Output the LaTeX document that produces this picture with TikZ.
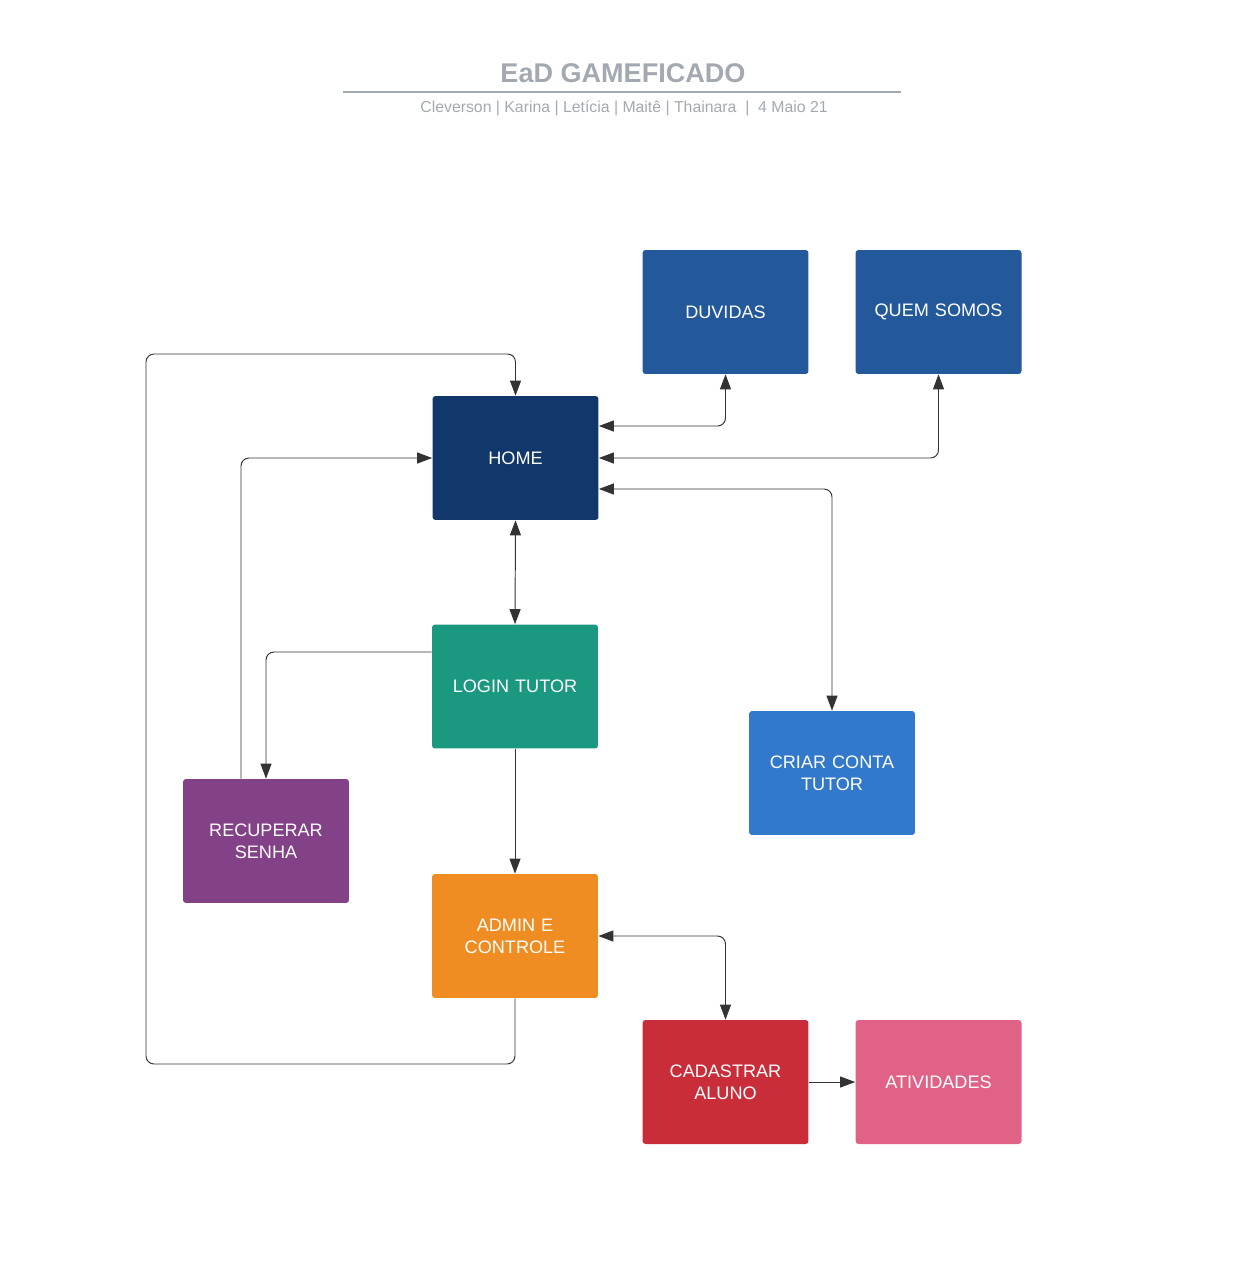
\documentclass[tikz,border=0pt]{standalone}
\usepackage{fontspec}
\setmainfont{Liberation Sans}
\usetikzlibrary{arrows.meta}

\definecolor{titlegray}{HTML}{A3A9B1}
\definecolor{linegray}{HTML}{333333}
\definecolor{infoblue}{HTML}{23589A}
\definecolor{homeblue}{HTML}{12376A}
\definecolor{logingreen}{HTML}{1A9880}
\definecolor{criarblue}{HTML}{3279CC}
\definecolor{senhapurple}{HTML}{834187}
\definecolor{adminorange}{HTML}{EF8C22}
\definecolor{alunored}{HTML}{C92D39}
\definecolor{ativpink}{HTML}{E06287}

\begin{document}
\begin{tikzpicture}[
    x = 0.02cm, y = -0.02cm,
    screen/.style = {rectangle, rounded corners = 0.06cm, minimum width = 3.32cm,
      minimum height = 2.48cm, text width = 3cm, align = center,
      text = white, font = \fontsize{10.3}{12.5}\selectfont},
    link/.style = {draw = linegray, line width = 0.55pt, rounded corners = 0.16cm,
      -{Triangle[length = 0.3cm, width = 0.22cm]}},
    both/.style = {link, {Triangle[length = 0.3cm, width = 0.22cm]}-{Triangle[length = 0.3cm, width = 0.22cm]}},
  ]
  \useasboundingbox (0,0) rectangle (1241,1280);

  % title
  \node [text = titlegray, font = \bfseries\fontsize{15.4}{18}\selectfont] (title) at (623,73) {EaD GAMEFICADO};
  \coordinate (rule left) at (343,92);
  \coordinate (rule right) at (901,92);
  \draw [titlegray, line width = 1.3pt] (rule left) -- (rule right);
  \node [text = titlegray, font = \fontsize{9}{10}\selectfont] (authors) at (624,108)
    {Cleverson | Karina | Letícia | Maitê | Thainara \ | \ 4 Maio 21};

  % screens
  \node [screen, fill = infoblue] (duvidas) at (725.5,312) {DUVIDAS};
  \node [screen, fill = infoblue] (quem) at (938.5,312) {QUEM SOMOS};
  \node [screen, fill = homeblue] (home) at (515.5,458) {HOME};
  \node [screen, fill = logingreen] (login) at (515,686.5) {LOGIN TUTOR};
  \node [screen, fill = criarblue] (criar) at (832,773) {CRIAR CONTA\\TUTOR};
  \node [screen, fill = senhapurple] (recuperar) at (266,841) {RECUPERAR\\SENHA};
  \node [screen, fill = adminorange] (admin) at (515,936) {ADMIN E\\CONTROLE};
  \node [screen, fill = alunored] (cadastrar) at (725.5,1082) {CADASTRAR\\ALUNO};
  \node [screen, fill = ativpink] (atividades) at (938.5,1082) {ATIVIDADES};

  % connectors
  \draw [both] ([yshift = 0.64cm]home.east) -| (duvidas.south);
  \draw [both] (home.east) -| (quem.south);
  \draw [both] ([yshift = -0.62cm]home.east) -| (criar.north);
  \draw [both] (home.south) -- (login.north);
  \draw [link] ([yshift = 0.69cm]login.west) -| (recuperar.north);
  \draw [link] ([xshift = -0.5cm]recuperar.north) |- (home.west);
  \draw [link] (login.south) -- (admin.north);
  \coordinate (loop bottom) at (146,1064);
  \coordinate (loop top) at (146,354);
  \draw [link] (admin.south) |- (loop bottom) -- (loop top) -| (home.north);
  \draw [both] (admin.east) -| (cadastrar.north);
  \draw [link] (cadastrar.east) -- (atividades.west);
\end{tikzpicture}
\end{document}
